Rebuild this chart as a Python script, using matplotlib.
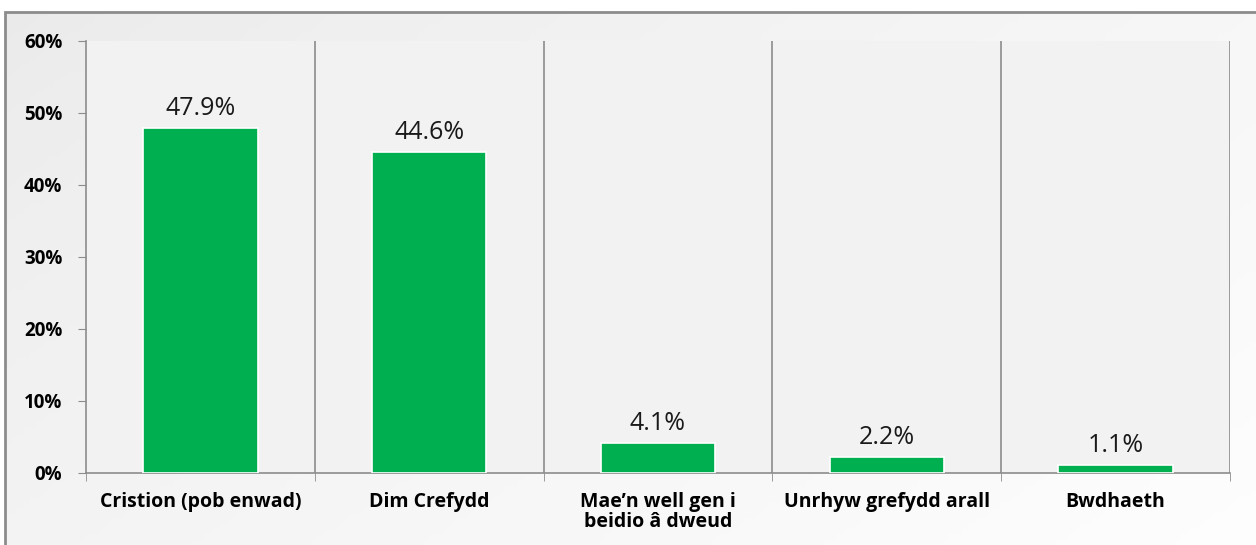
import numpy as np
import matplotlib.pyplot as plt
from matplotlib.patches import Rectangle
from matplotlib.ticker import FuncFormatter

# data
categories = ["Cristion (pob enwad)", "Dim Crefydd", "Mae\u2019n well gen i\nbeidio \u00e2 dweud",
              "Unrhyw grefydd arall", "Bwdhaeth"]
values = [47.9, 44.6, 4.1, 2.2, 1.1]
yticks = [0, 10, 20, 30, 40, 50, 60]

plt.rcParams['font.family'] = ['Open Sans', 'DejaVu Sans']

fig = plt.figure(figsize=(12.56, 5.45), dpi=100)
fig.patch.set_facecolor('white')

# chart area background with soft gradient + border
bg = fig.add_axes([5 / 1256, 0, 1 - 5 / 1256, 1 - 12 / 545])
gx, gy = np.meshgrid(np.linspace(0, 1, 200), np.linspace(0, 1, 100))
grad = (gx * 0.6 + gy * 0.4)
bg.imshow(grad, cmap='Greys_r', vmin=-6, vmax=1.1, aspect='auto',
          extent=[0, 1, 0, 1], origin='upper')
bg.set_xlim(0, 1)
bg.set_ylim(0, 1)
bg.axis('off')
fig.add_artist(Rectangle((5 / 1256, -0.01), 1.0, 1 - 12 / 545 + 0.01, transform=fig.transFigure,
                         fill=False, edgecolor='#8c8c8c', lw=2))

ax = fig.add_axes([86 / 1256, 1 - 473 / 545, (1230 - 86) / 1256, (473 - 41) / 545])
ax.set_facecolor('#f2f2f2')

x = np.arange(len(categories))
ax.bar(x, values, width=0.5, color='#00b050', edgecolor='white', linewidth=1.2, zorder=3)
for xi, v in zip(x, values):
    ax.text(xi, v + 1.0, f"{v:.1f}%", ha='center', va='bottom', fontsize=18, color='#1a1a1a')

ax.set_xlim(-0.5, len(categories) - 0.5)
ax.set_ylim(0, 60)
ax.set_yticks(yticks)
ax.yaxis.set_major_formatter(FuncFormatter(lambda v, p: f"{v:.0f}%"))
ax.tick_params(axis='y', labelsize=13.5, length=6, color='#8c8c8c', pad=11)
for lab in ax.get_yticklabels():
    lab.set_fontweight('bold')

# category boundaries (gridlines + ticks)
bounds = np.arange(len(categories) + 1) - 0.5
for b in bounds[1:]:
    ax.axvline(b, color='#8c8c8c', lw=1.2, zorder=1)
ax.set_xticks(bounds, minor=True)
ax.set_xticks(x)
ax.set_xticklabels(categories, fontsize=14, fontweight='bold', va='top', linespacing=1.0)
ax.tick_params(axis='x', which='major', length=0, pad=14)
ax.tick_params(axis='x', which='minor', length=6, color='#8c8c8c')

for s in ['top', 'right']:
    ax.spines[s].set_visible(False)
for s in ['left', 'bottom']:
    ax.spines[s].set_color('#8c8c8c')
    ax.spines[s].set_linewidth(1.2)

fig.savefig('out.png', dpi=100)
